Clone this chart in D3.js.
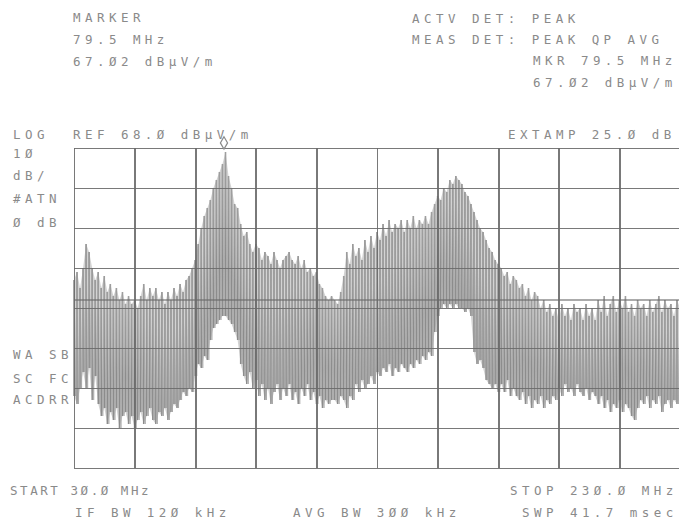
<!DOCTYPE html>
<html><head><meta charset="utf-8">
<script src="https://cdn.jsdelivr.net/npm/d3@7"></script>
<style>body{margin:0;background:#fff}svg{display:block}</style>
</head><body>
<svg id="c" width="679" height="525"></svg>
<script>
// ---- data ----
const startMHz = 30, stopMHz = 230;          // sweep, 1 MHz per trace point
const refLevel = 68, dbPerDiv = 10, yDivs = 8, xDivs = 10;
const traceMax = [
 35,37,33,38,44,42,38,35,37,33,
 36,32,34,31,33,30,32,29,31,29,
 30,28,31,34,30,33,31,33,30,32,
 29,32,30,33,31,34,32,35,36,38,
 40,44,48,51,53,55,58,60,62,64,
 67,61,58,54,53,49,46,47,44,42,
 44,43,40,42,41,39,42,40,38,40,
 41,42,40,39,41,38,40,37,38,36,
 37,34,33,31,30,31,30,29,32,36,
 42,39,44,41,43,40,45,42,46,43,
 47,45,49,46,50,47,49,48,50,47,
 50,48,51,48,50,49,51,49,52,54,
 56,55,58,57,60,59,61,60,59,57,
 56,54,52,50,48,47,45,43,42,40,
 39,38,36,37,34,36,35,33,34,31,
 33,30,32,31,28,30,27,29,26,28,
 25,29,26,28,25,29,27,28,25,29,
 26,28,25,30,27,31,26,29,31,27,
 30,28,31,27,29,26,30,28,29,26,
 30,27,29,31,27,30,28,29,26,30,
 28];
const traceMin = [
 6,4,8,12,8,13,5,11,4,1,
 3,-1,2,0,3,-2,1,2,-1,1,
 -2,0,2,-1,1,3,0,-1,2,1,
 3,0,2,4,3,5,7,6,8,7,
 11,14,13,16,15,20,23,24,25,26,
 26,25,24,22,20,14,11,9,12,8,
 10,6,9,5,8,4,7,9,5,8,
 6,9,5,7,4,8,6,9,5,7,
 4,6,3,5,4,5,5,4,6,5,
 3,6,5,9,7,10,8,9,11,9,
 12,11,13,12,14,11,13,12,14,13,
 12,14,13,15,14,16,15,17,16,22,
 26,28,29,28,29,28,29,28,28,27,
 28,26,17,14,15,13,10,9,8,9,
 7,9,7,10,6,8,6,5,7,4,
 6,3,5,4,6,3,5,4,6,5,
 8,6,9,7,8,6,9,7,6,8,
 5,7,6,4,6,3,5,2,4,3,
 5,2,4,3,1,0,3,5,4,6,
 3,5,4,6,2,4,5,3,5,4,
 6];
const markerFreq = 79.5, markerLevel = 67.02;
const displayLineLevel = 30;

const headerLeft = ["MARKER", "79.5 MHz", "67.Ø2 dBµV/m"];
const headerRight = ["ACTV DET: PEAK", "MEAS DET: PEAK QP AVG", "MKR 79.5 MHz", "67.Ø2 dBµV/m"];
const topLine = ["LOG", "REF 68.Ø dBµV/m", "EXTAMP 25.Ø dB"];
const sideTop = ["1Ø", "dB/", "#ATN", "Ø dB"];
const sideBottom = ["WA SB", "SC FC", "ACDRR"];
const footer1 = ["START 3Ø.Ø MHz", "STOP 23Ø.Ø MHz"];
const footer2 = ["IF BW 12Ø kHz", "AVG BW 3ØØ kHz", "SWP 41.7 msec"];

// ---- layout ----
const L = 74, R = 680, T = 148, B = 468;
const svg = d3.select("#c");
const x = d3.scaleLinear().domain([startMHz, stopMHz]).range([L, R]);
const y = d3.scaleLinear().domain([refLevel - dbPerDiv * yDivs, refLevel]).range([B, T]);

const gridCol = "#6a6a6a", textCol = "#8a8a8a", traceCol = "#8c8c8c";
const freqs = traceMax.map((v, i) => startMHz + i);

// trace body: light fill between readings, then vertical strokes and zig-zag
svg.append("path")
  .attr("d", d3.area().x((d, i) => x(freqs[i])).y0((d, i) => y(traceMin[i])).y1(d => y(d))(traceMax))
  .attr("fill", "#c4c4c4").attr("opacity", 0.75);
svg.append("g").selectAll("line").data(traceMax).join("line")
  .attr("x1", (d, i) => x(freqs[i])).attr("x2", (d, i) => x(freqs[i]))
  .attr("y1", d => y(d)).attr("y2", (d, i) => y(traceMin[i]))
  .attr("stroke", traceCol).attr("stroke-width", 1.5);
const pts = [];
traceMax.forEach((v, i) => {
  pts.push([x(freqs[i]), y(v)]);
  pts.push([x(freqs[i] + 0.5), y(traceMin[i])]);
});
svg.append("path").attr("d", d3.line()(pts))
  .attr("fill", "none").attr("stroke", "#a0a0a0").attr("stroke-width", 0.7);

// grid via axes
const xTicks = d3.range(xDivs + 1).map(i => startMHz + i * (stopMHz - startMHz) / xDivs);
const yTicks = d3.range(yDivs + 1).map(i => refLevel - i * dbPerDiv);
const gx = svg.append("g").attr("transform", `translate(0,${B})`)
  .call(d3.axisBottom(x).tickValues(xTicks).tickSize(-(B - T)).tickFormat(""));
const gy = svg.append("g").attr("transform", `translate(${L},0)`)
  .call(d3.axisLeft(y).tickValues(yTicks).tickSize(-(R - L)).tickFormat(""));
[gx, gy].forEach(g => {
  g.select(".domain").remove();
  g.selectAll("line").attr("stroke", gridCol).attr("stroke-width", 1.6)
    .attr("opacity", 0.9).attr("shape-rendering", "crispEdges");
});
// display line
svg.append("line").attr("x1", L).attr("x2", R)
  .attr("y1", Math.round(y(displayLineLevel))).attr("y2", Math.round(y(displayLineLevel)))
  .attr("stroke", gridCol).attr("stroke-width", 1.4).attr("opacity", 0.75);

// marker
svg.append("path")
  .attr("d", d3.symbol(d3.symbolDiamond, 45)())
  .attr("transform", `translate(${x(markerFreq)},${y(markerLevel) - 9})`)
  .attr("fill", "#fff").attr("stroke", textCol).attr("stroke-width", 1.2);

// text
function txt(s, tx, ty, w) {
  const t = svg.append("text").attr("x", tx).attr("y", ty).text(s)
    .attr("font-family", "DejaVu Sans Mono, monospace").attr("font-size", 12.5)
    .attr("letter-spacing", 4.45).attr("fill", textCol);
  if (w) t.attr("textLength", w).attr("lengthAdjust", "spacing");
}
headerLeft.forEach((s, i) => txt(s, 73, 22 + i * 22));
txt(headerRight[0], 412, 23);
txt(headerRight[1], 412, 44);
txt(headerRight[2], 533, 65);
txt(headerRight[3], 533, 87);
txt(topLine[0], 13, 139);
txt(topLine[1], 73, 139);
txt(topLine[2], 508, 139);
sideTop.forEach((s, i) => txt(s, 13, [158, 180, 203, 227][i]));
sideBottom.forEach((s, i) => txt(s, 13, [359, 383, 404][i]));
txt(footer1[0], 10, 495, 143);
txt(footer1[1], 510, 495);
txt(footer2[0], 75, 517);
txt(footer2[1], 293, 517);
txt(footer2[2], 522, 517);
</script>
</body></html>
